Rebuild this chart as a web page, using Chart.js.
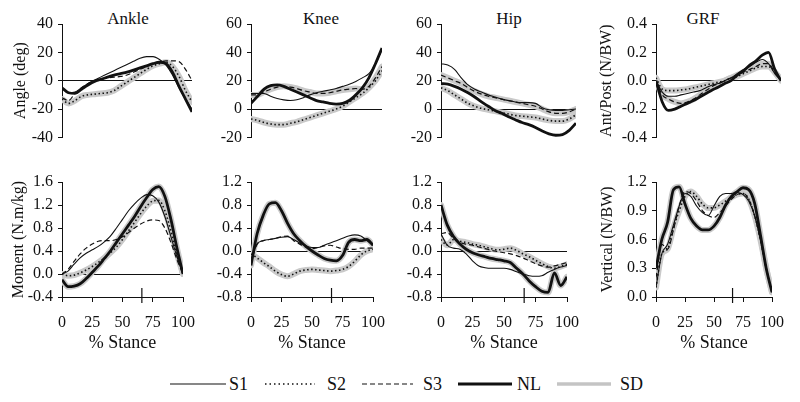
<!DOCTYPE html>
<html>
<head>
<meta charset="utf-8">
<script src="https://cdn.jsdelivr.net/npm/chart.js@4.4.0/dist/chart.umd.min.js"></script>
<style>
  body { margin: 0; background: #fff; }
  #wrap { position: relative; width: 800px; height: 402px; font-family: "Liberation Serif", "Times New Roman", serif; color: #111; }
  canvas { position: absolute; }
  .ttl { position: absolute; top: 9px; font-size: 17px; line-height: 20px; transform: translateX(-50%); white-space: nowrap; }
  #legend { position: absolute; left: 0; top: 368px; }
  #legend text { font-family: "Liberation Serif", "Times New Roman", serif; font-size: 18px; font-weight: normal; fill: #111; }
</style>
</head>
<body>
<div id="wrap">
  <div class="ttl" style="left:128px">Ankle</div>
  <div class="ttl" style="left:321px">Knee</div>
  <div class="ttl" style="left:509px">Hip</div>
  <div class="ttl" style="left:703px">GRF</div>

  <canvas id="ankleAng" width="206" height="152" style="left:0px;top:0px"></canvas>
  <canvas id="kneeAng" width="206" height="152" style="left:190px;top:0px"></canvas>
  <canvas id="hipAng" width="210" height="152" style="left:380px;top:0px"></canvas>
  <canvas id="grfAP" width="215" height="152" style="left:580px;top:0px"></canvas>

  <canvas id="ankleMom" width="206" height="196" style="left:0px;top:160px"></canvas>
  <canvas id="kneeMom" width="206" height="196" style="left:190px;top:160px"></canvas>
  <canvas id="hipMom" width="210" height="196" style="left:380px;top:160px"></canvas>
  <canvas id="grfVert" width="215" height="196" style="left:580px;top:160px"></canvas>

  <svg id="legend" width="800" height="32">
    <line x1="170" y1="16" x2="226" y2="16" stroke="#111" stroke-width="1.1"/>
    <text x="229" y="22">S1</text>
    <line x1="265" y1="16" x2="315" y2="16" stroke="#111" stroke-width="1.4" stroke-dasharray="1.5 3"/>
    <text x="327" y="22">S2</text>
    <line x1="362" y1="16" x2="413" y2="16" stroke="#111" stroke-width="1.1" stroke-dasharray="5 3"/>
    <text x="423" y="22">S3</text>
    <line x1="458" y1="16" x2="512" y2="16" stroke="#111" stroke-width="3.2"/>
    <text x="517" y="22">NL</text>
    <line x1="557" y1="16" x2="611" y2="16" stroke="#c4c4c4" stroke-width="3.5"/>
    <text x="620" y="22">SD</text>
  </svg>
</div>

<script>
// % stance samples
const pct = [0, 5, 10, 15, 20, 25, 30, 35, 40, 45, 50, 55, 60, 65, 70, 75, 80, 85, 90, 95, 100];
const stanceMark = 66;

// Ankle angle (deg)
const ankleAngS1 = [-5, -8.5, -8, -5, -2, 0.5, 2.7, 4.9, 7.1, 9.3, 11.5, 13.7, 15.9, 17, 17, 15, 11, 4, -5, -13, -20];
const ankleAngS2 = [-13, -16, -14, -11, -10, -9.5, -9, -8.5, -7, -4, -1, 2, 5, 8, 10.5, 12, 13, 10, 3, -7, -15];
const ankleAngS3 = [-12, -14, -9, -5, -2, 0, 1, 2, 2.5, 3, 4, 6, 8, 10, 12, 13, 14, 14, 13.5, 8, 0];
const ankleAngNL = [-5, -8.5, -9, -6, -3, -0.5, 1, 2.5, 4, 5, 6, 7.5, 9, 10.5, 12, 13, 12, 6, -4, -13, -22];

// Knee angle (deg)
const kneeAngS1 = [11, 11, 11, 9, 7.5, 6.5, 6, 6.5, 8, 10, 11.5, 12.5, 13.5, 14.5, 16, 17.5, 19.5, 22, 25, 32, 42];
const kneeAngS2 = [-7, -8, -9.5, -10.5, -11, -11, -10, -9, -7.5, -6, -4.5, -3, -1.5, 0, 2, 5, 8, 11, 15, 20, 27];
const kneeAngS3 = [10, 10, 12, 14, 15.5, 16, 15.5, 14.5, 13, 12, 11, 11, 11.5, 12.5, 13.5, 14, 14.5, 14, 16, 22, 30];
const kneeAngNL = [4, 9, 14, 16.5, 17, 16, 14, 12, 10, 8, 6, 5, 4, 3.5, 4, 6, 10, 15, 22, 32, 43];

// Hip angle (deg)
const hipAngS1 = [32, 31, 28, 22, 17, 14, 12, 10, 8.5, 7, 6, 5, 4.5, 4.5, 4, 1, -0.5, -1, -1, -0.5, 0];
const hipAngS2 = [15, 13, 10, 7, 4, 2, 0.5, -0.5, -1.5, -2.5, -3.5, -4.5, -5, -5.5, -6, -7, -8, -8.5, -8.5, -7, -4];
const hipAngS3 = [24, 22, 20, 18, 15, 12.5, 10.5, 9, 8, 7, 6, 5, 4, 3, 2, 0, -2, -3, -3, -2, 0];
const hipAngNL = [18, 17.5, 16, 14, 11.5, 8.5, 5, 2, -1, -3, -5.5, -7.5, -9.5, -11, -13, -15.5, -17.5, -18.5, -18, -15, -10];

// GRF ant/post (N/BW)
const grfAPS1 = [0, -0.08, -0.11, -0.11, -0.1, -0.09, -0.08, -0.07, -0.05, -0.03, -0.02, 0, 0.02, 0.05, 0.08, 0.1, 0.13, 0.15, 0.12, 0.05, 0];
const grfAPS2 = [0.02, -0.06, -0.07, -0.07, -0.065, -0.06, -0.05, -0.04, -0.03, -0.02, -0.01, 0, 0.02, 0.03, 0.05, 0.07, 0.09, 0.1, 0.1, 0.06, 0.01];
const grfAPS3 = [0, -0.1, -0.13, -0.15, -0.16, -0.15, -0.13, -0.1, -0.07, -0.04, -0.02, 0, 0.02, 0.04, 0.06, 0.08, 0.1, 0.12, 0.12, 0.06, 0];
const grfAPNL = [0, -0.15, -0.21, -0.2, -0.18, -0.16, -0.14, -0.115, -0.09, -0.065, -0.045, -0.02, 0, 0.04, 0.07, 0.11, 0.14, 0.18, 0.2, 0.08, 0];

// Ankle moment (N.m/kg)
const ankleMomS1 = [0, 0.05, 0.17, 0.28, 0.36, 0.42, 0.48, 0.56, 0.66, 0.8, 0.95, 1.1, 1.22, 1.32, 1.38, 1.36, 1.25, 1.0, 0.65, 0.3, 0];
const ankleMomS2 = [0, -0.03, -0.02, 0.02, 0.07, 0.13, 0.2, 0.28, 0.37, 0.47, 0.6, 0.75, 0.9, 1.05, 1.18, 1.27, 1.28, 1.1, 0.75, 0.35, 0];
const ankleMomS3 = [0, 0.08, 0.22, 0.35, 0.45, 0.52, 0.57, 0.58, 0.58, 0.6, 0.65, 0.72, 0.8, 0.87, 0.92, 0.94, 0.93, 0.8, 0.55, 0.25, 0];
const ankleMomNL = [-0.1, -0.22, -0.21, -0.17, -0.08, 0.03, 0.14, 0.27, 0.4, 0.55, 0.7, 0.85, 1.0, 1.17, 1.33, 1.47, 1.52, 1.35, 0.95, 0.45, 0];

// Knee moment (N.m/kg)
const kneeMomS1 = [-0.15, 0.12, 0.18, 0.2, 0.22, 0.24, 0.25, 0.2, 0.14, 0.09, 0.06, 0.06, 0.1, 0.14, 0.18, 0.22, 0.26, 0.28, 0.26, 0.18, 0.1];
const kneeMomS2 = [-0.05, -0.12, -0.2, -0.27, -0.35, -0.41, -0.44, -0.4, -0.35, -0.33, -0.32, -0.33, -0.34, -0.35, -0.34, -0.32, -0.27, -0.18, -0.07, 0, 0.03];
const kneeMomS3 = [-0.2, 0.12, 0.18, 0.2, 0.22, 0.25, 0.26, 0.18, 0.12, 0.07, 0.04, 0.06, 0.09, 0.1, 0.07, 0.04, 0.03, 0.03, 0.05, 0.05, 0.05];
const kneeMomNL = [-0.25, 0.3, 0.62, 0.82, 0.84, 0.7, 0.48, 0.3, 0.18, 0.08, 0, -0.07, -0.13, -0.16, -0.17, -0.08, 0.15, 0.2, 0.18, 0.2, 0.1];

// Hip moment (N.m/kg)
const hipMomS1 = [0.3, 0.1, 0.05, 0.03, -0.05, -0.17, -0.26, -0.29, -0.3, -0.3, -0.3, -0.32, -0.36, -0.4, -0.43, -0.44, -0.43, -0.37, -0.32, -0.28, -0.25];
const hipMomS2 = [0.2, 0.1, 0.2, 0.17, 0.15, 0.12, 0.1, 0.07, 0.04, 0.02, 0.03, 0.05, 0.01, -0.05, -0.1, -0.16, -0.22, -0.27, -0.3, -0.27, -0.23];
const hipMomS3 = [0.3, 0.32, 0.22, 0.15, 0.12, 0.1, 0.07, 0.04, 0.01, -0.01, -0.03, -0.05, -0.08, -0.12, -0.17, -0.22, -0.26, -0.28, -0.26, -0.23, -0.2];
const hipMomNL = [0.8, 0.45, 0.25, 0.12, 0.03, -0.03, -0.07, -0.1, -0.13, -0.15, -0.17, -0.2, -0.3, -0.4, -0.52, -0.62, -0.7, -0.72, -0.38, -0.6, -0.45];

// GRF vertical (N/BW)
const grfVertS1 = [0.1, 0.45, 0.55, 0.75, 0.95, 1.08, 1.05, 0.95, 0.88, 0.85, 0.95, 1.05, 1.08, 1.08, 1.09, 1.07, 1.0, 0.85, 0.6, 0.3, 0.05];
const grfVertS2 = [0.1, 0.45, 0.5, 0.72, 0.9, 1.05, 1.1, 1.05, 0.97, 0.93, 0.93, 0.96, 1.0, 1.04, 1.07, 1.08, 1.02, 0.85, 0.6, 0.3, 0.05];
const grfVertS3 = [0.2, 0.55, 0.5, 0.7, 0.95, 1.1, 1.08, 1.0, 0.9, 0.85, 0.83, 0.88, 0.95, 1.02, 1.07, 1.08, 1.02, 0.85, 0.6, 0.3, 0.05];
const grfVertNL = [0.3, 0.6, 0.78, 1.12, 1.15, 0.97, 0.82, 0.74, 0.7, 0.7, 0.74, 0.83, 0.96, 1.05, 1.1, 1.14, 1.12, 0.98, 0.65, 0.3, 0.05];

// y axis [min, max, step]
const angRangeAnkle = [-40, 40, 20];
const angRangeKneeHip = [-20, 60, 20];
const apRange = [-0.4, 0.4, 0.2];
const momRangeAnkle = [-0.4, 1.6, 0.4];
const momRangeKneeHip = [-0.8, 1.2, 0.4];
const vertRange = [0, 1.2, 0.3];

const serif = '"Liberation Serif", "Times New Roman", serif';
Chart.defaults.font.family = serif;
Chart.defaults.font.weight = 'normal';
Chart.defaults.color = '#111';

// small tick that marks toe-off on the x axis
const stanceTick = {
    id: 'stanceTick',
    afterDatasetsDraw(chart) {
        const x = chart.scales.x.getPixelForValue(stanceMark);
        const b = chart.chartArea.bottom;
        const ctx = chart.ctx;
        ctx.save();
        ctx.strokeStyle = '#111';
        ctx.lineWidth = 1.2;
        ctx.beginPath();
        ctx.moveTo(x, b - 9);
        ctx.lineTo(x, b + 6);
        ctx.stroke();
        ctx.restore();
    }
};

const styles = {
    nl: { borderColor: '#111', borderWidth: 2.8 },
    s1: { borderColor: '#111', borderWidth: 1.1 },
    s2: { borderColor: '#111', borderWidth: 1.6, borderDash: [1.5, 2.5] },
    s3: { borderColor: '#111', borderWidth: 1.2, borderDash: [5, 3] },
    sd: { borderColor: '#c9c9c9', borderWidth: 6, borderCapStyle: 'round' }
};

function toPts(arr) {
    return arr.map((v, i) => ({ x: pct[i], y: v }));
}

function isZero(v) { return Math.abs(v) < 1e-9; }

function panel(id, left, axisX, rightX, p) {
    const canvas = document.getElementById(id);
    const series = { s1: p.s1, s2: p.s2, s3: p.s3, nl: p.nl };
    const datasets = [];
    ['nl', 's1', 's2', 's3'].forEach(k => {
        datasets.push(Object.assign({ label: k.toUpperCase(), data: toPts(series[k]) }, styles[k]));
    });
    // SD bands last so they sit underneath
    p.sd.forEach(k => {
        datasets.push(Object.assign({ label: 'SD', data: toPts(series[k]) }, styles.sd));
    });

    const yW = axisX - left;
    const padR = left + canvas.width - rightX;
    const tickFont = { family: serif, size: 16, weight: 'normal' };

    new Chart(canvas, {
        type: 'line',
        data: { datasets: datasets },
        options: {
            responsive: false,
            animation: false,
            devicePixelRatio: 1,
            elements: { point: { radius: 0 }, line: { tension: 0, cubicInterpolationMode: 'monotone', fill: false } },
            layout: { padding: { left: 0, right: padR, top: p.bottom ? 22 : 24, bottom: p.bottom ? 0 : 10 } },
            plugins: { legend: { display: false }, tooltip: { enabled: false } },
            scales: {
                x: p.bottom ? {
                    type: 'linear', min: 0, max: 100,
                    afterFit: s => { s.height = 59; },
                    border: { display: true, color: '#111', width: 1 },
                    grid: { drawOnChartArea: false, tickColor: '#111', tickLength: 5 },
                    ticks: { stepSize: 25, padding: 11, font: tickFont, color: '#111', maxRotation: 0, autoSkip: false },
                    title: { display: true, text: '% Stance', font: { family: serif, size: 18, weight: 'normal' }, color: '#111', padding: { top: 0, bottom: 2 } }
                } : { type: 'linear', min: 0, max: 100, display: false },
                y: {
                    min: p.range[0], max: p.range[1],
                    afterFit: s => { s.width = yW; },
                    border: { display: true, color: '#111', width: 1 },
                    grid: {
                        drawOnChartArea: true,
                        color: c => (c.tick && isZero(c.tick.value)) ? '#111' : 'rgba(0,0,0,0)',
                        tickColor: '#111', tickLength: 4, lineWidth: 1
                    },
                    ticks: {
                        stepSize: p.range[2], padding: 5, font: tickFont, color: '#111',
                        callback: v => (isZero(v) ? 0 : v).toFixed(p.dec)
                    },
                    title: {
                        display: !!p.yTitle, text: p.yTitle || '', font: { family: serif, size: 16, weight: 'normal' }, color: '#111',
                        padding: { top: p.titlePad || 0, bottom: 0 }
                    }
                }
            }
        },
        plugins: p.bottom ? [stanceTick] : []
    });
}

panel('ankleAng', 0, 62, 192, { s1: ankleAngS1, s2: ankleAngS2, s3: ankleAngS3, nl: ankleAngNL, sd: ['s2'], range: angRangeAnkle, dec: 0, yTitle: 'Angle (deg)', titlePad: 11 });
panel('kneeAng', 190, 251, 382, { s1: kneeAngS1, s2: kneeAngS2, s3: kneeAngS3, nl: kneeAngNL, sd: ['s2', 's3'], range: angRangeKneeHip, dec: 0 });
panel('hipAng', 380, 441, 576, { s1: hipAngS1, s2: hipAngS2, s3: hipAngS3, nl: hipAngNL, sd: ['s2', 's3'], range: angRangeKneeHip, dec: 0 });
panel('grfAP', 580, 656, 781, { s1: grfAPS1, s2: grfAPS2, s3: grfAPS3, nl: grfAPNL, sd: ['s2', 's3'], range: apRange, dec: 1, yTitle: 'Ant/Post (N/BW)', titlePad: 17 });

panel('ankleMom', 0, 62, 192, { s1: ankleMomS1, s2: ankleMomS2, s3: ankleMomS3, nl: ankleMomNL, sd: ['nl', 's2'], range: momRangeAnkle, dec: 1, yTitle: 'Moment (N.m/kg)', titlePad: 9, bottom: true });
panel('kneeMom', 190, 251, 382, { s1: kneeMomS1, s2: kneeMomS2, s3: kneeMomS3, nl: kneeMomNL, sd: ['nl', 's2'], range: momRangeKneeHip, dec: 1, bottom: true });
panel('hipMom', 380, 441, 576, { s1: hipMomS1, s2: hipMomS2, s3: hipMomS3, nl: hipMomNL, sd: ['nl', 's2'], range: momRangeKneeHip, dec: 1, bottom: true });
panel('grfVert', 580, 656, 781, { s1: grfVertS1, s2: grfVertS2, s3: grfVertS3, nl: grfVertNL, sd: ['nl', 's2'], range: vertRange, dec: 1, yTitle: 'Vertical (N/BW)', titlePad: 18, bottom: true });
</script>
</body>
</html>
